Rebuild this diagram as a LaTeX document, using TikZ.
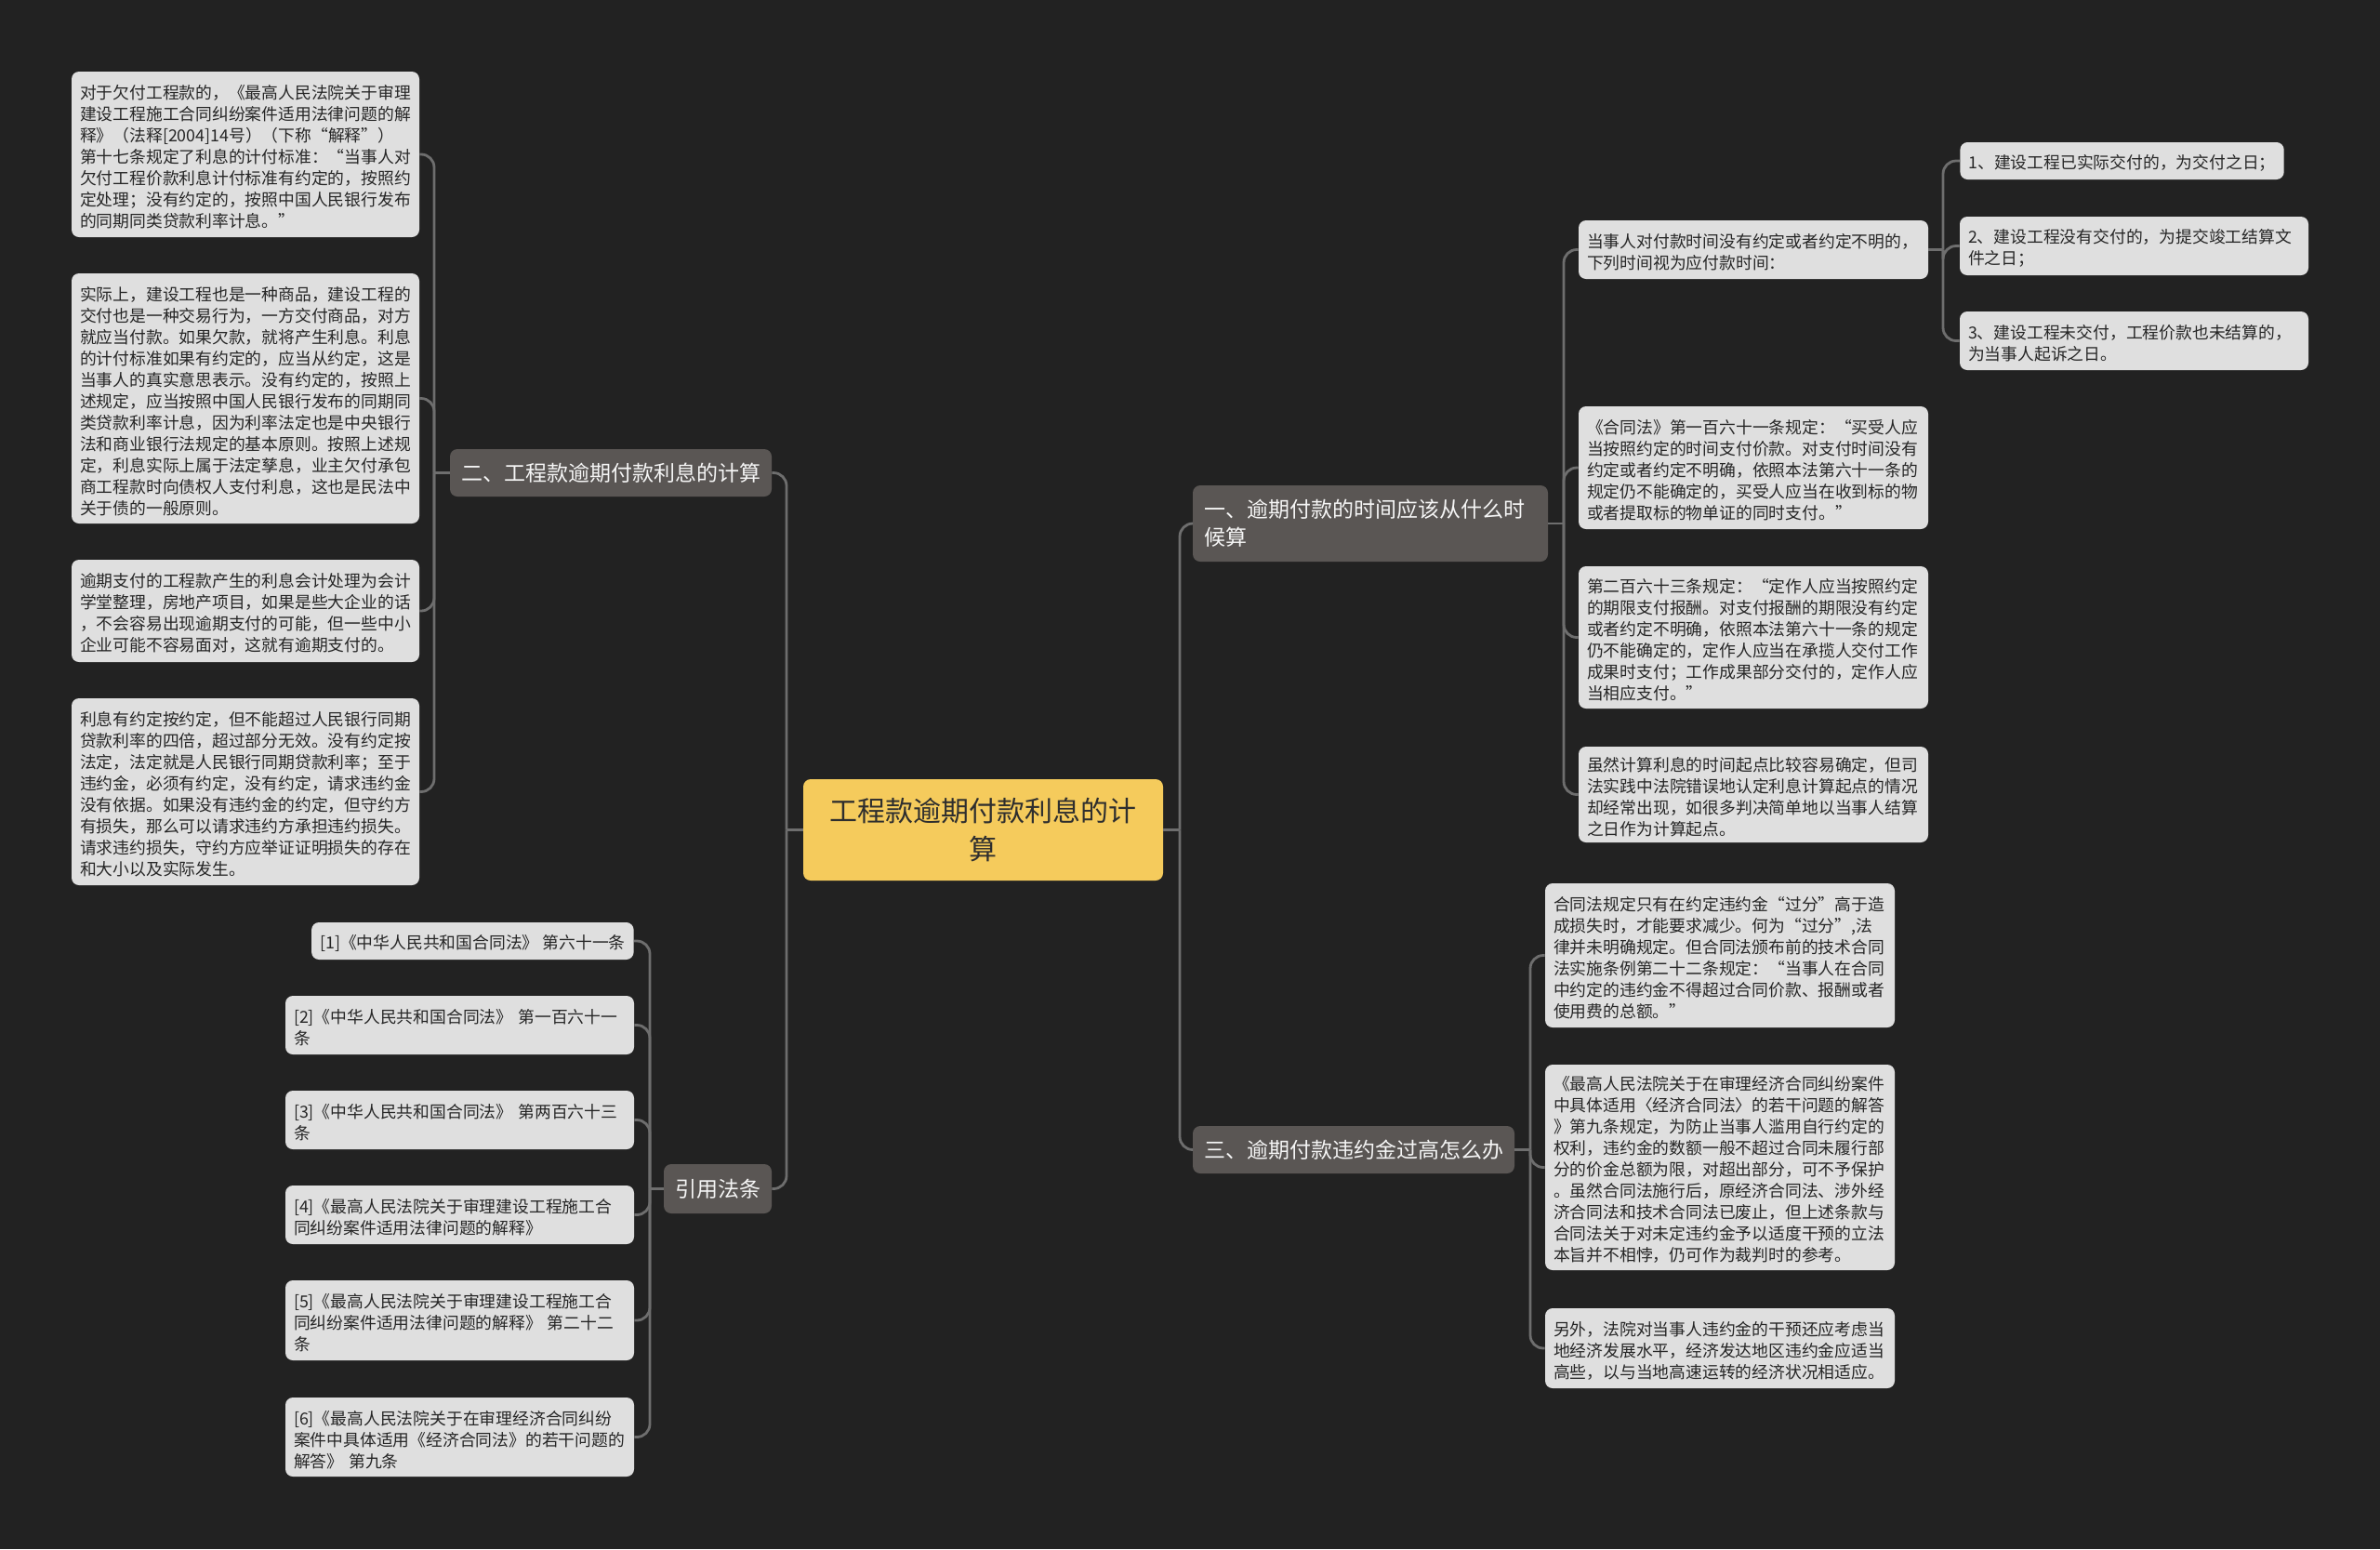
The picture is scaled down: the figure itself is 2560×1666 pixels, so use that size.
\documentclass[tikz,border=0pt]{standalone}
\usepackage{fontspec}
\setmainfont{Noto Sans CJK SC}
\definecolor{bgcol}{HTML}{222222}
\definecolor{linecol}{HTML}{6E6E6E}
\definecolor{leafcol}{HTML}{DFDFDF}
\definecolor{leaftxt}{HTML}{262626}
\definecolor{lvlcol}{HTML}{5A5654}
\definecolor{lvltxt}{HTML}{F5F5F5}
\definecolor{rootcol}{HTML}{F5CB5C}
\definecolor{roottxt}{HTML}{2E2E2E}
\begin{document}
\begin{tikzpicture}[x=0.5pt,y=-0.5pt,
  leaf/.style={fill=leafcol, text=leaftxt, rounded corners=4pt, font=\fontsize{8.9}{11.5}\selectfont, align=left, inner xsep=4.5pt, inner ysep=0pt, execute at begin node={\rule{0pt}{10.3pt}}},
  lf/.style 2 args={leaf, text width=#1, minimum height=#2},
  lvl/.style={fill=lvlcol, text=lvltxt, rounded corners=4pt, font=\fontsize{11.5}{15}\selectfont, inner xsep=6pt, inner ysep=0pt, align=left},
  rootbox/.style={fill=rootcol, text=roottxt, rounded corners=4pt, font=\fontsize{15}{20.5}\selectfont, inner xsep=10pt, inner ysep=0pt, align=center, text width=173.5pt, minimum height=54.5pt},
  conn/.style={draw=linecol, line width=1.4pt},
  curve/.style={conn, rounded corners=7pt}]
\fill[bgcol] (0,0) rectangle (2560,1666);
\useasboundingbox (0,0) rectangle (2560,1666);

% root
\node[rootbox] (C0) at (1057.5,892.5) {工程款逾期付款利息的计\\算};

% level 1
\node[lvl, minimum height=25.5pt] (n2) at (657,508.5) {二、工程款逾期付款利息的计算};
\node[lvl, text width=179pt, minimum height=41pt] (n1) at (1474,563) {一、逾期付款的时间应该从什么时\\候算};
\node[lvl, minimum height=25.5pt] (n3) at (1456,1236.5) {三、逾期付款违约金过高怎么办};
\node[lvl, minimum height=26.5pt] (n4) at (772,1278.5) {引用法条};

% trunks
\coordinate (tL) at (846,0);
\coordinate (tR) at (1269,0);
\coordinate (t2) at (467,0);
\coordinate (t4) at (699,0);
\coordinate (t1) at (1682,0);
\coordinate (t3) at (1646,0);
\coordinate (tr1) at (2090,0);

% left leaves (二)
\node[lf={178pt}{89pt}] (L1) at (264,166) {对于欠付工程款的，《最高人民法院关于审理\\建设工程施工合同纠纷案件适用法律问题的解\\释》（法释[2004]14号）（下称“解释”）\\第十七条规定了利息的计付标准：“当事人对\\欠付工程价款利息计付标准有约定的，按照约\\定处理；没有约定的，按照中国人民银行发布\\的同期同类贷款利率计息。”};
\node[lf={178pt}{134.5pt}] (L2) at (264,428.5) {实际上，建设工程也是一种商品，建设工程的\\交付也是一种交易行为，一方交付商品，对方\\就应当付款。如果欠款，就将产生利息。利息\\的计付标准如果有约定的，应当从约定，这是\\当事人的真实意思表示。没有约定的，按照上\\述规定，应当按照中国人民银行发布的同期同\\类贷款利率计息，因为利率法定也是中央银行\\法和商业银行法规定的基本原则。按照上述规\\定，利息实际上属于法定孳息，业主欠付承包\\商工程款时向债权人支付利息，这也是民法中\\关于债的一般原则。};
\node[lf={178pt}{55pt}] (L3) at (264,657) {逾期支付的工程款产生的利息会计处理为会计\\学堂整理，房地产项目，如果是些大企业的话\\，不会容易出现逾期支付的可能，但一些中小\\企业可能不容易面对，这就有逾期支付的。};
\node[lf={178pt}{100.5pt}] (L4) at (264,851.5) {利息有约定按约定，但不能超过人民银行同期\\贷款利率的四倍，超过部分无效。没有约定按\\法定，法定就是人民银行同期贷款利率；至于\\违约金，必须有约定，没有约定，请求违约金\\没有依据。如果没有违约金的约定，但守约方\\有损失，那么可以请求违约方承担违约损失。\\请求违约损失，守约方应举证证明损失的存在\\和大小以及实际发生。};

% citations (引用法条)
\node[leaf, anchor=east, minimum height=20pt] (B1) at (682,1012) {[1]《中华人民共和国合同法》 第六十一条};
\node[lf={178.5pt}{31.5pt}] (B2) at (494.5,1102.5) {[2]《中华人民共和国合同法》 第一百六十一\\条};
\node[lf={178.5pt}{31.5pt}] (B3) at (494.5,1204.5) {[3]《中华人民共和国合同法》 第两百六十三\\条};
\node[lf={178.5pt}{31.5pt}] (B4) at (494.5,1306.5) {[4]《最高人民法院关于审理建设工程施工合\\同纠纷案件适用法律问题的解释》};
\node[lf={178.5pt}{43pt}] (B5) at (494.5,1420) {[5]《最高人民法院关于审理建设工程施工合\\同纠纷案件适用法律问题的解释》 第二十二\\条};
\node[lf={178.5pt}{42.5pt}] (B6) at (494.5,1545.5) {[6]《最高人民法院关于在审理经济合同纠纷\\案件中具体适用《经济合同法》的若干问题的\\解答》 第九条};

% right leaves (一)
\node[lf={179pt}{31.5pt}] (R1) at (1886,268.5) {当事人对付款时间没有约定或者约定不明的，\\下列时间视为应付款时间：};
\node[lf={179pt}{66pt}] (R2) at (1886,503) {《合同法》第一百六十一条规定：“买受人应\\当按照约定的时间支付价款。对支付时间没有\\约定或者约定不明确，依照本法第六十一条的\\规定仍不能确定的，买受人应当在收到标的物\\或者提取标的物单证的同时支付。”};
\node[lf={179pt}{76.5pt}] (R3) at (1886,685.5) {第二百六十三条规定：“定作人应当按照约定\\的期限支付报酬。对支付报酬的期限没有约定\\或者约定不明确，依照本法第六十一条的规定\\仍不能确定的，定作人应当在承揽人交付工作\\成果时支付；工作成果部分交付的，定作人应\\当相应支付。”};
\node[lf={179pt}{51.5pt}] (R4) at (1886,854.5) {虽然计算利息的时间起点比较容易确定，但司\\法实践中法院错误地认定利息计算起点的情况\\却经常出现，如很多判决简单地以当事人结算\\之日作为计算起点。};

% sub leaves of R1
\node[leaf, anchor=west, minimum height=20pt] (D1) at (2108,173) {1、建设工程已实际交付的，为交付之日；};
\node[lf={178.5pt}{31.5pt}] (D2) at (2295.5,264.5) {2、建设工程没有交付的，为提交竣工结算文\\件之日；};
\node[lf={178.5pt}{31.5pt}] (D3) at (2295.5,366.5) {3、建设工程未交付，工程价款也未结算的，\\为当事人起诉之日。};

% leaves of 三
\node[lf={179pt}{77.5pt}] (T1) at (1850,1027.5) {合同法规定只有在约定违约金“过分”高于造\\成损失时，才能要求减少。何为“过分”,法\\律并未明确规定。但合同法颁布前的技术合同\\法实施条例第二十二条规定：“当事人在合同\\中约定的违约金不得超过合同价款、报酬或者\\使用费的总额。”};
\node[lf={179pt}{110.5pt}] (T2) at (1850,1255.5) {《最高人民法院关于在审理经济合同纠纷案件\\中具体适用〈经济合同法〉的若干问题的解答\\》第九条规定，为防止当事人滥用自行约定的\\权利，违约金的数额一般不超过合同未履行部\\分的价金总额为限，对超出部分，可不予保护\\。虽然合同法施行后，原经济合同法、涉外经\\济合同法和技术合同法已废止，但上述条款与\\合同法关于对未定违约金予以适度干预的立法\\本旨并不相悖，仍可作为裁判时的参考。};
\node[lf={179pt}{43pt}] (T3) at (1850,1450) {另外，法院对当事人违约金的干预还应考虑当\\地经济发展水平，经济发达地区违约金应适当\\高些，以与当地高速运转的经济状况相适应。};

% connectors: root
\draw[conn] (C0.west) -- (C0.west -| tL);
\foreach \c in {n2,n4} \draw[curve] (C0.west -| tL) |- (\c.east);
\draw[conn] (C0.east) -- (C0.east -| tR);
\foreach \c in {n1,n3} \draw[curve] (C0.east -| tR) |- (\c.west);

% 二
\draw[conn] (n2.west) -- (n2.west -| t2);
\foreach \c in {L1,L2,L3,L4} \draw[curve] (n2.west -| t2) |- (\c.east);
% 引用法条
\draw[conn] (n4.west) -- (n4.west -| t4);
\foreach \c in {B1,B2,B3,B4,B5,B6} \draw[curve] (n4.west -| t4) |- (\c.east);
% 一
\draw[conn] (n1.east) -- (n1.east -| t1);
\foreach \c in {R1,R2,R3,R4} \draw[curve] (n1.east -| t1) |- (\c.west);
% R1
\draw[conn] (R1.east) -- (R1.east -| tr1);
\foreach \c in {D1,D2,D3} \draw[curve] (R1.east -| tr1) |- (\c.west);
% 三
\draw[conn] (n3.east) -- (n3.east -| t3);
\foreach \c in {T1,T2,T3} \draw[curve] (n3.east -| t3) |- (\c.west);
\end{tikzpicture}
\end{document}
